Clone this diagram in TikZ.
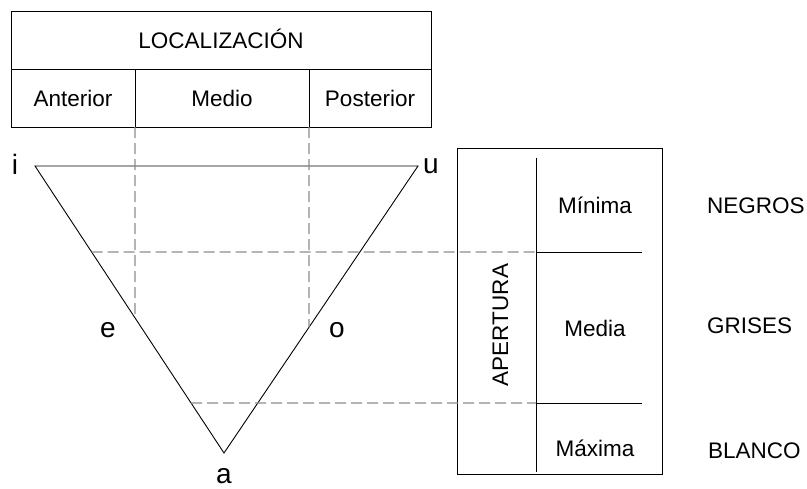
\documentclass[tikz,border=0pt]{standalone}
\usepackage{fontspec}
\setmainfont{Liberation Sans}
\usetikzlibrary{calc}
\tikzset{
  texto/.style={font=\fontsize{22.5}{27}\selectfont, text height=16pt, text depth=0pt, inner sep=0pt},
  vocal/.style={font=\fontsize{28}{32}\selectfont, inner sep=0pt},
  guia/.style={dashed, dash pattern=on 11pt off 5pt, draw=black!45, line width=1.1pt},
  linea/.style={line width=0.9pt}
}
\begin{document}
\begin{tikzpicture}[x=1pt,y=-1pt]
  \useasboundingbox (0,0) rectangle (807,488);

  % Tabla de localizacion
  \draw[linea] (11,11) rectangle (431,127);
  \draw[linea] (11,69) -- (431,69);
  \draw[linea] (135,69) -- (135,127);
  \draw[linea] (309,69) -- (309,127);
  \node[texto] (loc) at (221,40) {LOCALIZACIÓN};
  \node[texto] (ant) at (73,98) {Anterior};
  \node[texto] (med) at (222,98) {Medio};
  \node[texto] (pos) at (370,98) {Posterior};

  % Los tres vertices del triangulo
  \coordinate (i) at (35,166);
  \coordinate (u) at (418,166);
  \coordinate (a) at (224,453);
  \draw[linea] (i) -- (u) -- (a) -- cycle;

  % Puntos sobre los lados
  \coordinate (e) at ($(i)!{100/189}!(a)$);
  \coordinate (o) at ($(u)!{109/194}!(a)$);
  \coordinate (m1) at ($(i)!{86/287}!(a)$);
  \coordinate (m2) at ($(i)!{237/287}!(a)$);

  % Caja de apertura
  \draw[linea] (457,148) rectangle (662,474);
  \coordinate (c1) at (536,158);
  \coordinate (c2) at (536,472);
  \coordinate (h1) at (536,252);
  \coordinate (h2) at (536,403);
  \draw[linea] (c1) -- (c2);
  \draw[linea] (h1) -- (642,252);
  \draw[linea] (h2) -- (642,403);
  \node[texto, rotate=90] (ape) at (500,325) {APERTURA};
  \node[texto] (min) at (595,205) {Mínima};
  \node[texto] (mdi) at (595,328) {Media};
  \node[texto] (max) at (595,448) {Máxima};

  % Lineas guia
  \draw[guia] (135,127) -- (e);
  \draw[guia] (309,127) -- (o);
  \draw[guia] (m1) -- (h1);
  \draw[guia] (m2) -- (h2);

  % Etiqueta las vocales
  \node[vocal] (vi) at (15,164) {i};
  \node[vocal] (vu) at (431,166) {u};
  \node[vocal] (ve) at (108,330) {e};
  \node[vocal] (vo) at (337,330) {o};
  \node[vocal] (va) at (224,476) {a};

  % Colores
  \node[texto, anchor=west] (neg) at (707,205) {NEGROS};
  \node[texto, anchor=west] (gri) at (707,325) {GRISES};
  \node[texto, anchor=west] (bla) at (708,450) {BLANCO};
\end{tikzpicture}
\end{document}
